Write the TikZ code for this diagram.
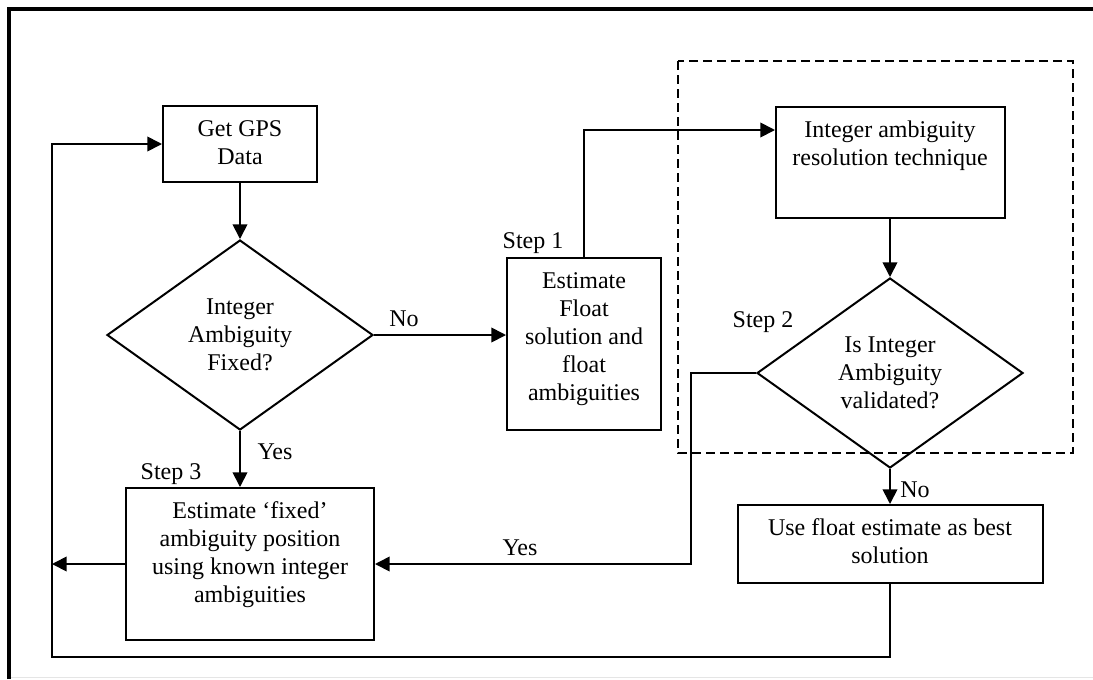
\documentclass[tikz,border=0pt]{standalone}
\usepackage{fontspec}
\setmainfont{Liberation Serif}
\usetikzlibrary{arrows.meta,shapes.geometric}
% Framed box text: fixed width and height, lines centred, set from the top
\newcommand{\boxcontent}[3]{\parbox[c][#2][t]{#1}{\centering\vspace*{8.5pt}\strut #3\par}}
\begin{document}
\begin{tikzpicture}[x=0.75pt,y=-0.75pt,
  every node/.style={font=\fontsize{18}{21}\selectfont},
  blk/.style={draw, rectangle, line width=1.5pt, inner sep=0pt},
  dec/.style={draw, diamond, line width=1.5pt, inner sep=0pt, aspect=1.4,
              minimum width=199.5pt, minimum height=142.5pt, align=center},
  link/.style={line width=1.3pt},
  arr/.style={link, -{Triangle[length=11pt,width=11pt]}},
  lbl/.style={anchor=base, inner sep=0pt}]
\useasboundingbox (0,0) rectangle (1093,679);

% outer frame
\draw[gray!20, line width=1pt] (9,677.5) -- (1093,677.5);
\draw[line width=3pt] (9,679) -- (9,9) -- (1093,9);

% dashed group around the validation stage
\draw[line width=1.3pt, dash pattern=on 6.5pt off 4pt] (678,61) rectangle (1073,453);

% process boxes
\node[blk] (gps) at (240,144)   {\boxcontent{115.5pt}{57pt}{Get GPS\\Data}};
\node[blk] (flt) at (584,344)   {\boxcontent{115.5pt}{129pt}{Estimate\\Float\\solution and\\float\\ambiguities}};
\node[blk] (ia)  at (890,162.5) {\boxcontent{171.75pt}{83.25pt}{Integer ambiguity\\resolution technique}};
\node[blk] (s3)  at (250,564)   {\boxcontent{186pt}{114pt}{Estimate ‘fixed’\\ambiguity position\\using known integer\\ambiguities}};
\node[blk] (uf)  at (890,544)   {\boxcontent{228.75pt}{58.5pt}{Use float estimate as best\\solution}};

% decisions
\node[dec] (d1) at (240,335) {Integer\\Ambiguity\\Fixed?};
\node[dec] (d2) at (890,373) {Is Integer\\Ambiguity\\validated?};

% routing points
\coordinate (iaIn)  at (775,130);
\coordinate (bendA) at (691,373);
\coordinate (loopL) at (52,657);

% connectors
\draw[arr] (gps.south) -- (d1.north);
\draw[arr] (d1.east) -- (d1.east -| flt.west);
\draw[arr] (d1.south) -- (d1.south |- s3.north);
\draw[arr] (flt.north) |- (iaIn);
\draw[arr] (ia.south) -- (d2.north);
\draw[arr] (d2.west) -- (bendA) |- (s3.east);
\draw[arr] (d2.south) -- (uf.north);
\draw[arr] (uf.south) |- (loopL) |- (gps.west);
\draw[arr] (s3.west) -- (s3.west -| loopL);

% labels
\node[lbl] (no1)  at (404,326) {No};
\node[lbl] (yes1) at (275,459) {Yes};
\node[lbl] (st1)  at (533,248) {Step 1};
\node[lbl] (st2)  at (763,327) {Step 2};
\node[lbl] (st3)  at (171,479) {Step 3};
\node[lbl] (yes2) at (520,555) {Yes};
\node[lbl] (no2)  at (915,497) {No};
\end{tikzpicture}
\end{document}
